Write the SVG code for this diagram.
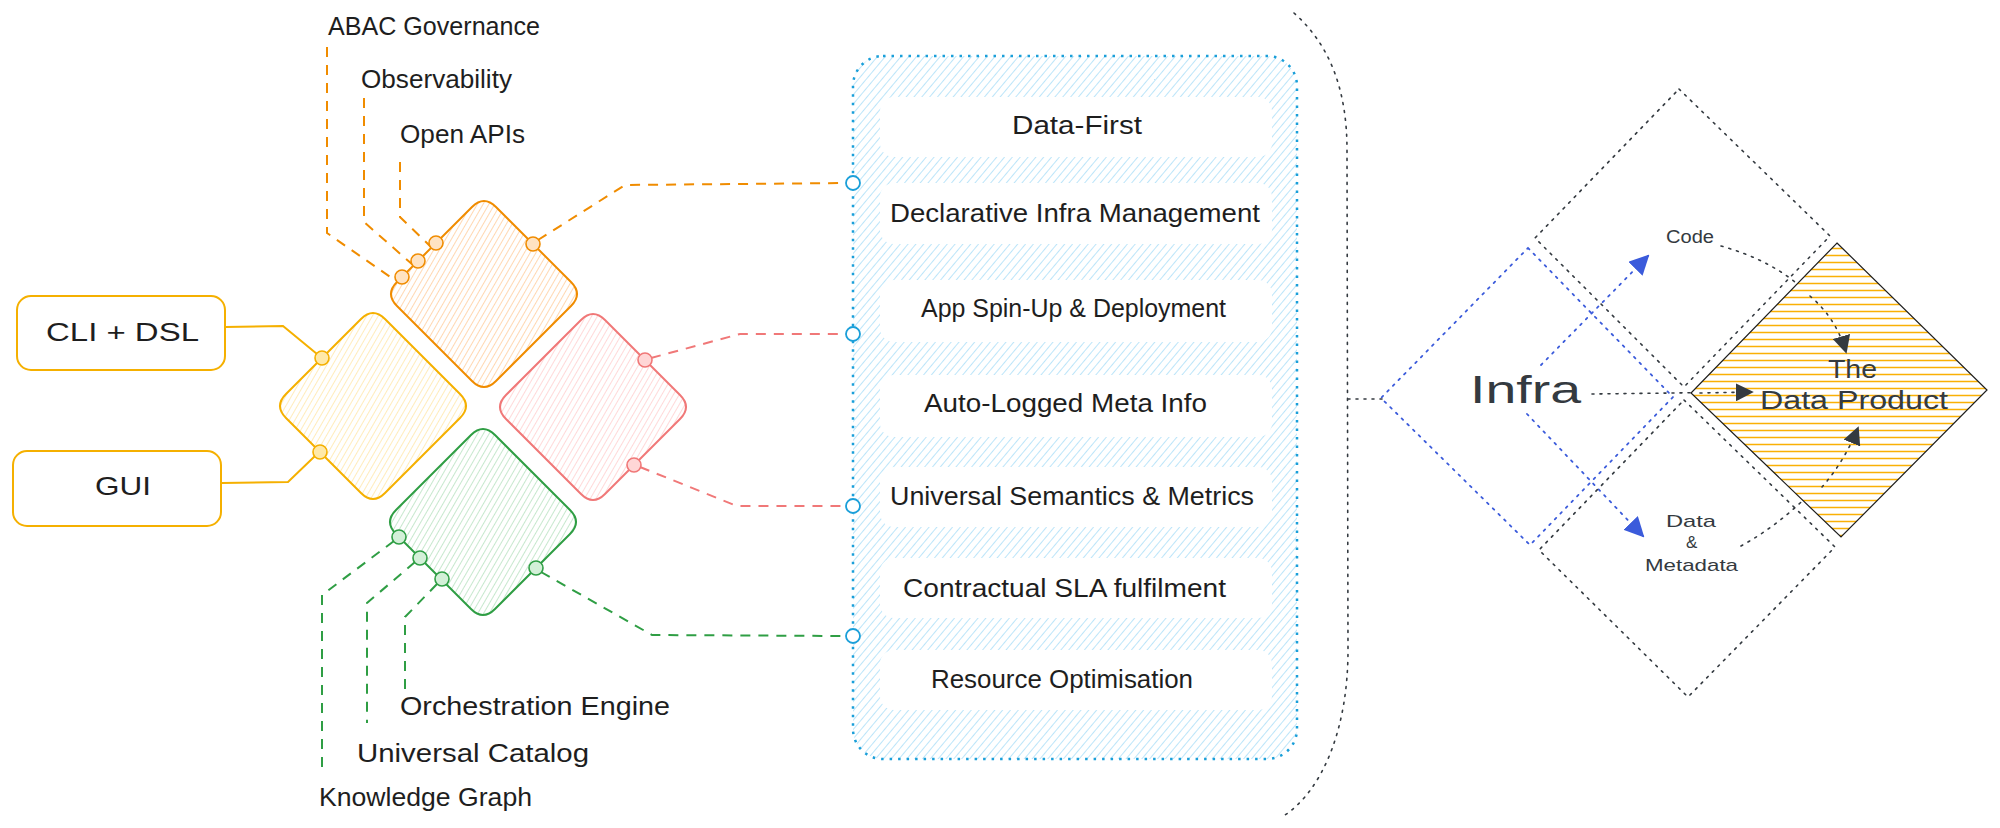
<svg xmlns="http://www.w3.org/2000/svg" width="2000" height="828" viewBox="0 0 2000 828">
<style>
  text { font-family: "Liberation Sans", Arial, sans-serif; fill: #1e1e1e; }
  .lbl { font-size: 25px; }
  .rt { fill: #343a40; }
  .dash { fill: none; stroke-width: 2; stroke-dasharray: 10 8; }
  .or { stroke: #f08c00; }
  .rd { stroke: #f07878; }
  .gr { stroke: #2f9e44; }
  .ye { fill: none; stroke: #f5b000; stroke-width: 2; }
  .dot { fill: none; stroke: #343a40; stroke-width: 1.6; stroke-dasharray: 2 6; stroke-linecap: round; }
  .bdot { fill: none; stroke: #3b5bdb; stroke-width: 1.8; stroke-dasharray: 2 6; stroke-linecap: round; }
  .wbox { fill: #ffffff; }
</style>
<defs>
  <pattern id="hO" width="5" height="5" patternUnits="userSpaceOnUse" patternTransform="rotate(30)"><line x1="0" y1="0" x2="0" y2="5" stroke="#ffb266" stroke-width="1"/></pattern>
  <pattern id="hY" width="5" height="5" patternUnits="userSpaceOnUse" patternTransform="rotate(30)"><line x1="0" y1="0" x2="0" y2="5" stroke="#ffd97a" stroke-width="1"/></pattern>
  <pattern id="hR" width="5" height="5" patternUnits="userSpaceOnUse" patternTransform="rotate(30)"><line x1="0" y1="0" x2="0" y2="5" stroke="#ffb3b3" stroke-width="1"/></pattern>
  <pattern id="hG" width="5" height="5" patternUnits="userSpaceOnUse" patternTransform="rotate(30)"><line x1="0" y1="0" x2="0" y2="5" stroke="#8fd19e" stroke-width="1"/></pattern>
  <pattern id="hB" width="6" height="6" patternUnits="userSpaceOnUse" patternTransform="rotate(40)"><line x1="0" y1="0" x2="0" y2="6" stroke="#8fd3f5" stroke-width="1.2"/></pattern>
  <pattern id="hP" x="0" y="0" width="400" height="7" patternUnits="userSpaceOnUse"><rect width="400" height="7" fill="#ffffff"/><line x1="0" y1="3.5" x2="400" y2="3.5" stroke="#fab005" stroke-width="1.5"/></pattern>
  <marker id="aB" viewBox="0 0 10 10" refX="9" refY="5" markerWidth="20" markerHeight="20" markerUnits="userSpaceOnUse" orient="auto"><path d="M0,0 L10,5 L0,10 Z" fill="#3b5bdb"/></marker>
  <marker id="aG" viewBox="0 0 10 10" refX="9" refY="5" markerWidth="18" markerHeight="18" markerUnits="userSpaceOnUse" orient="auto"><path d="M0,0 L10,5 L0,10 Z" fill="#343a40"/></marker>
</defs>
<rect width="2000" height="828" fill="#ffffff"/>

<!-- connectors -->
<g id="connectors">
  <path class="dash or" d="M327,47 V233 L396,281"/>
  <path class="dash or" d="M364,98 V222 L413,265"/>
  <path class="dash or" d="M400,162 V217 L431,247"/>
  <path class="dash or" d="M538,240 L625,185 L846,183"/>
  <path class="dash rd" d="M651,358 L740,334 L846,334"/>
  <path class="dash rd" d="M640,467 L737,506 L846,506"/>
  <path class="dash gr" d="M394,541 L322,595 V767"/>
  <path class="dash gr" d="M415,562 L367,603 V723"/>
  <path class="dash gr" d="M437,584 L405,617 V690"/>
  <path class="dash gr" d="M541,572 L652,635 L846,636"/>
  <path class="ye" d="M225,327 L283,326 L317,354"/>
  <path class="ye" d="M222,483 L288,482 L315,456"/>
  <!-- right side -->
  <path class="dot" d="M1294,13 C1330,45 1347,90 1347,150 L1348,650 C1348,730 1322,790 1285,815"/>
  <path class="dot" d="M1348,399 L1382,399"/>
  <path class="bdot" d="M1541,365 L1648,256" marker-end="url(#aB)"/>
  <path class="bdot" d="M1527,414 L1643,536" marker-end="url(#aB)"/>
  <path class="dot" d="M1592,394 L1752,392" marker-end="url(#aG)"/>
  <path class="dot" d="M1721,246 Q1815,272 1846,352" marker-end="url(#aG)"/>
  <path class="dot" d="M1741,546 Q1815,505 1858,428" marker-end="url(#aG)"/>
</g>

<!-- left boxes -->
<g id="cli">
  <rect x="17" y="296" width="208" height="74" rx="14" fill="#ffffff" stroke="#f5b000" stroke-width="2"/>
  <text class="lbl" x="46" y="341" font-size="27" textLength="153" lengthAdjust="spacingAndGlyphs">CLI + DSL</text>
</g>
<g id="gui">
  <rect x="13" y="451" width="208" height="75" rx="14" fill="#ffffff" stroke="#f5b000" stroke-width="2"/>
  <text class="lbl" x="95" y="495" font-size="27" textLength="56" lengthAdjust="spacingAndGlyphs">GUI</text>
</g>

<!-- diamonds -->
<g id="d-orange">
  <path d="M472,207 Q484,195 496,207 L571,282 Q583,294 571,306 L496,381 Q484,393 472,381 L397,306 Q385,294 397,282 Z" fill="url(#hO)" stroke="#f08c00" stroke-width="2"/>
</g>
<g id="d-yellow">
  <path d="M361,319 Q373,307 385,319 L460,394 Q472,406 460,418 L385,493 Q373,505 361,493 L286,418 Q274,406 286,394 Z" fill="url(#hY)" stroke="#f5b000" stroke-width="2"/>
</g>
<g id="d-red">
  <path d="M581,320 Q593,308 605,320 L680,395 Q692,407 680,419 L605,494 Q593,506 581,494 L506,419 Q494,407 506,395 Z" fill="url(#hR)" stroke="#f07878" stroke-width="2"/>
</g>
<g id="d-green">
  <path d="M471,435 Q483,423 495,435 L570,510 Q582,522 570,534 L495,609 Q483,621 471,609 L396,534 Q384,522 396,510 Z" fill="url(#hG)" stroke="#2f9e44" stroke-width="2"/>
</g>

<!-- connection points -->
<g id="points">
  <g fill="#ffe3c2" stroke="#f08c00" stroke-width="1.6">
    <circle cx="402" cy="277" r="7"/><circle cx="418" cy="261" r="7"/><circle cx="436" cy="243" r="7"/><circle cx="533" cy="244" r="7"/>
  </g>
  <g fill="#ffe9a8" stroke="#f5b000" stroke-width="1.6">
    <circle cx="322" cy="358" r="7"/><circle cx="320" cy="452" r="7"/>
  </g>
  <g fill="#ffd6d6" stroke="#f07878" stroke-width="1.6">
    <circle cx="645" cy="360" r="7"/><circle cx="634" cy="465" r="7"/>
  </g>
  <g fill="#d3f0d8" stroke="#2f9e44" stroke-width="1.6">
    <circle cx="399" cy="537" r="7"/><circle cx="420" cy="558" r="7"/><circle cx="442" cy="579" r="7"/><circle cx="536" cy="568" r="7"/>
  </g>
</g>

<!-- labels -->
<g id="labels-top">
  <text class="lbl" x="328" y="35" textLength="212" lengthAdjust="spacingAndGlyphs">ABAC Governance</text>
  <text class="lbl" x="361" y="88" textLength="151" lengthAdjust="spacingAndGlyphs">Observability</text>
  <text class="lbl" x="400" y="143" textLength="125" lengthAdjust="spacingAndGlyphs">Open APIs</text>
</g>
<g id="labels-bottom">
  <text class="lbl" x="400" y="715" textLength="270" lengthAdjust="spacingAndGlyphs">Orchestration Engine</text>
  <text class="lbl" x="357" y="762" textLength="232" lengthAdjust="spacingAndGlyphs">Universal Catalog</text>
  <text class="lbl" x="319" y="806" textLength="213" lengthAdjust="spacingAndGlyphs">Knowledge Graph</text>
</g>

<!-- capabilities container -->
<g id="capabilities">
  <rect x="853" y="56" width="444" height="703" rx="30" fill="url(#hB)" stroke="#1a9fd9" stroke-width="2.5" stroke-dasharray="2.5 6"/>
  <rect class="wbox" x="880" y="97" width="392" height="60" rx="14"/>
  <rect class="wbox" x="880" y="183" width="392" height="61" rx="14"/>
  <rect class="wbox" x="880" y="280" width="392" height="62" rx="14"/>
  <rect class="wbox" x="880" y="375" width="392" height="62" rx="14"/>
  <rect class="wbox" x="880" y="467" width="392" height="60" rx="14"/>
  <rect class="wbox" x="880" y="558" width="392" height="60" rx="14"/>
  <rect class="wbox" x="880" y="650" width="392" height="60" rx="14"/>
  <text class="lbl" x="1012" y="134" textLength="130" lengthAdjust="spacingAndGlyphs">Data-First</text>
  <text class="lbl" x="890" y="222" textLength="370" lengthAdjust="spacingAndGlyphs">Declarative Infra Management</text>
  <text class="lbl" x="921" y="317" textLength="305" lengthAdjust="spacingAndGlyphs">App Spin-Up &amp; Deployment</text>
  <text class="lbl" x="924" y="412" textLength="283" lengthAdjust="spacingAndGlyphs">Auto-Logged Meta Info</text>
  <text class="lbl" x="890" y="505" textLength="364" lengthAdjust="spacingAndGlyphs">Universal Semantics &amp; Metrics</text>
  <text class="lbl" x="903" y="597" textLength="323" lengthAdjust="spacingAndGlyphs">Contractual SLA fulfilment</text>
  <text class="lbl" x="931" y="688" textLength="262" lengthAdjust="spacingAndGlyphs">Resource Optimisation</text>
  <g fill="#ffffff" stroke="#1a9fd9" stroke-width="1.8">
    <circle cx="853" cy="183" r="7"/><circle cx="853" cy="334" r="7"/><circle cx="853" cy="506" r="7"/><circle cx="853" cy="636" r="7"/>
  </g>
</g>

<!-- right side diamonds -->
<g id="code-diamond">
  <path d="M1679,89 L1830,236 L1684,387 L1535,238 Z" fill="#f6f7fb" fill-opacity="0.8" class="dot"/>
</g>
<g id="data-diamond">
  <path d="M1684,400 L1835,547 L1688,697 L1539,550 Z" fill="#f6f7fb" fill-opacity="0.8" class="dot"/>
</g>
<g id="infra-diamond">
  <path d="M1528,248 L1673,397 L1530,545 L1381,398 Z" fill="#f3f4f9" fill-opacity="0.6" class="bdot"/>
</g>
<g id="product-diamond">
  <path d="M1837,243 L1987,390 L1841,537 L1691,393 Z" fill="url(#hP)" stroke="#1e1e1e" stroke-width="1.2"/>
</g>
<g id="right-arrows-redraw">
  <path class="dot" d="M1700,393 L1752,392" marker-end="url(#aG)"/>
  <path class="dot" d="M1810,296 Q1836,318 1846,352" marker-end="url(#aG)"/>
  <path class="dot" d="M1822,487 Q1844,462 1858,428" marker-end="url(#aG)"/>
</g>
<g id="right-labels">
  <text class="rt" x="1470" y="403" font-size="38" textLength="111" lengthAdjust="spacingAndGlyphs">Infra</text>
  <text class="rt" x="1666" y="243" font-size="18" textLength="48" lengthAdjust="spacingAndGlyphs">Code</text>
  <text class="rt" x="1828" y="378" font-size="25" textLength="49" lengthAdjust="spacingAndGlyphs">The</text>
  <text class="rt" x="1760" y="409" font-size="25" textLength="188" lengthAdjust="spacingAndGlyphs">Data Product</text>
  <text class="rt" x="1666" y="527" font-size="17" textLength="50" lengthAdjust="spacingAndGlyphs">Data</text>
  <text class="rt" x="1686" y="548" font-size="17">&amp;</text>
  <text class="rt" x="1645" y="571" font-size="17" textLength="93" lengthAdjust="spacingAndGlyphs">Metadata</text>
</g>
</svg>
